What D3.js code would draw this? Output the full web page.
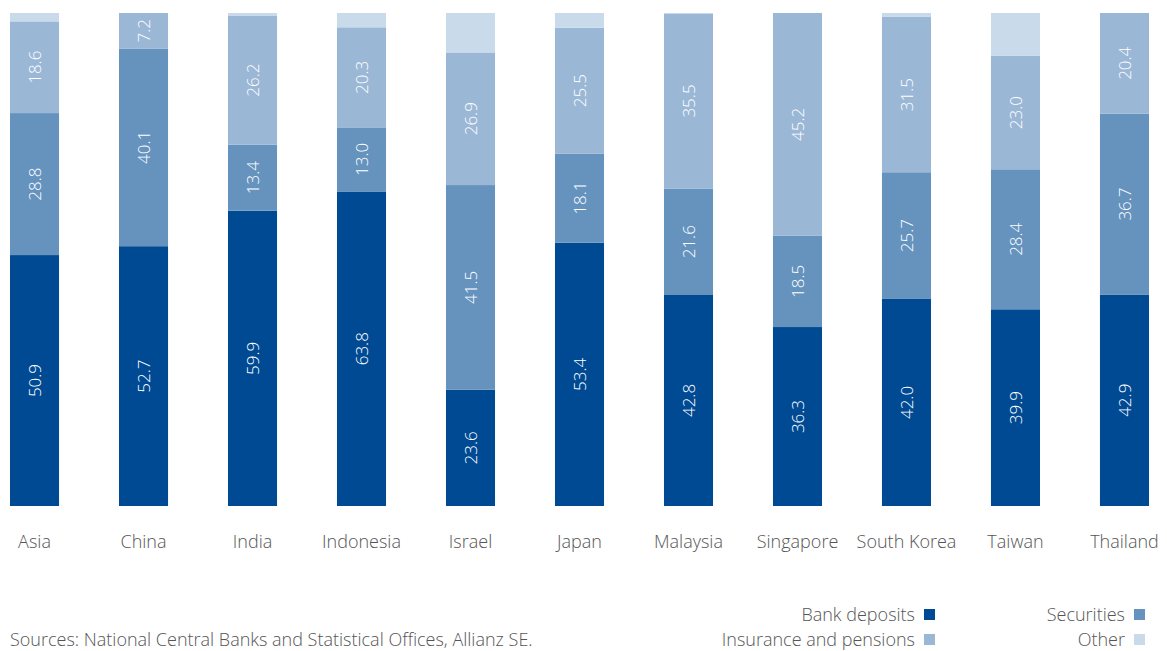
<!DOCTYPE html>
<html>
<head>
<meta charset="utf-8">
<script src="https://cdn.jsdelivr.net/npm/d3@7"></script>
<style>
  html, body { margin: 0; padding: 0; background: #fff; }
  svg { display: block; }
  text { font-family: "Open Sans", "Noto Sans", sans-serif; }
</style>
</head>
<body>
<svg id="chart" width="1167" height="651"></svg>
<script>
// Household financial assets by asset class, share of total in %
const countries = ["Asia", "China", "India", "Indonesia", "Israel", "Japan",
  "Malaysia", "Singapore", "South Korea", "Taiwan", "Thailand"];
const bankDeposits = [50.9, 52.7, 59.9, 63.8, 23.6, 53.4, 42.8, 36.3, 42.0, 39.9, 42.9];
const securities   = [28.8, 40.1, 13.4, 13.0, 41.5, 18.1, 21.6, 18.5, 25.7, 28.4, 36.7];
const insurance    = [18.6, 7.2, 26.2, 20.3, 26.9, 25.5, 35.5, 45.2, 31.5, 23.0, 20.4];
const other        = [1.7, 0.0, 0.5, 2.9, 8.0, 3.0, 0.1, 0.0, 0.8, 8.7, 0.0];

const seriesNames = ["Bank deposits", "Securities", "Insurance and pensions", "Other"];
const seriesColors = ["#004a93", "#6593be", "#9bb7d6", "#c9dbea"];
const labelled = [true, true, true, false];
const sourceNote = "Sources: National Central Banks and Statistical Offices, Allianz SE.";

const rows = countries.map((c, i) => ({
  country: c,
  "Bank deposits": bankDeposits[i],
  "Securities": securities[i],
  "Insurance and pensions": insurance[i],
  "Other": other[i]
}));

const svg = d3.select("#chart");

const x = d3.scaleBand()
  .domain(countries)
  .range([10, 1149])
  .paddingInner(0.55)
  .paddingOuter(0);

const y = d3.scaleLinear().domain([0, 100]).range([506, 13]);

const stack = d3.stack().keys(seriesNames);
const layers = stack(rows);

const layerG = svg.append("g")
  .selectAll("g")
  .data(layers)
  .join("g")
  .attr("fill", (d, i) => seriesColors[i]);

layerG.selectAll("rect")
  .data(d => d)
  .join("rect")
  .attr("x", d => x(d.data.country))
  .attr("width", x.bandwidth())
  .attr("y", d => y(d[1]))
  .attr("height", d => Math.max(0, y(d[0]) - y(d[1])));

// value labels, rotated, centred in each segment
layers.forEach((layer, si) => {
  if (!labelled[si]) return;
  svg.append("g")
    .selectAll("text")
    .data(layer)
    .join("text")
    .attr("transform", d => {
      const cx = x(d.data.country) + x.bandwidth() / 2;
      const cy = (y(d[0]) + y(d[1])) / 2;
      return `translate(${cx},${cy}) rotate(-90)`;
    })
    .attr("text-anchor", "middle")
    .attr("dy", "0.36em")
    .attr("fill", "#ffffff")
    .attr("font-size", 17)
    .attr("font-weight", 300)
    .text(d => (d[1] - d[0]).toFixed(1));
});

// category axis
const xAxis = svg.append("g")
  .attr("transform", "translate(0,506)")
  .call(d3.axisBottom(x).tickSize(0).tickPadding(29));
xAxis.select(".domain").remove();
xAxis.selectAll("text")
  .attr("font-size", 18)
  .attr("font-family", "\"Open Sans\", \"Noto Sans\", sans-serif")
  .attr("font-weight", 300)
  .attr("fill", "#555");

// legend: two columns, right aligned text followed by a swatch
const legendPos = [
  { tx: 915, y: 615 },
  { tx: 1125, y: 615 },
  { tx: 915, y: 640 },
  { tx: 1125, y: 640 }
];
const legend = svg.append("g")
  .selectAll("g")
  .data(seriesNames)
  .join("g")
  .attr("transform", (d, i) => `translate(${legendPos[i].tx},${legendPos[i].y})`);
legend.append("text")
  .attr("text-anchor", "end")
  .attr("dy", "0.35em")
  .attr("font-size", 18)
  .attr("font-weight", 300)
  .attr("fill", "#555")
  .text(d => d);
legend.append("rect")
  .attr("x", 9)
  .attr("y", -6)
  .attr("width", 11)
  .attr("height", 11)
  .attr("fill", (d, i) => seriesColors[i]);

svg.append("text")
  .attr("x", 10)
  .attr("y", 646)
  .attr("font-size", 18)
  .attr("font-weight", 300)
  .attr("fill", "#555")
  .text(sourceNote);
</script>
</body>
</html>
